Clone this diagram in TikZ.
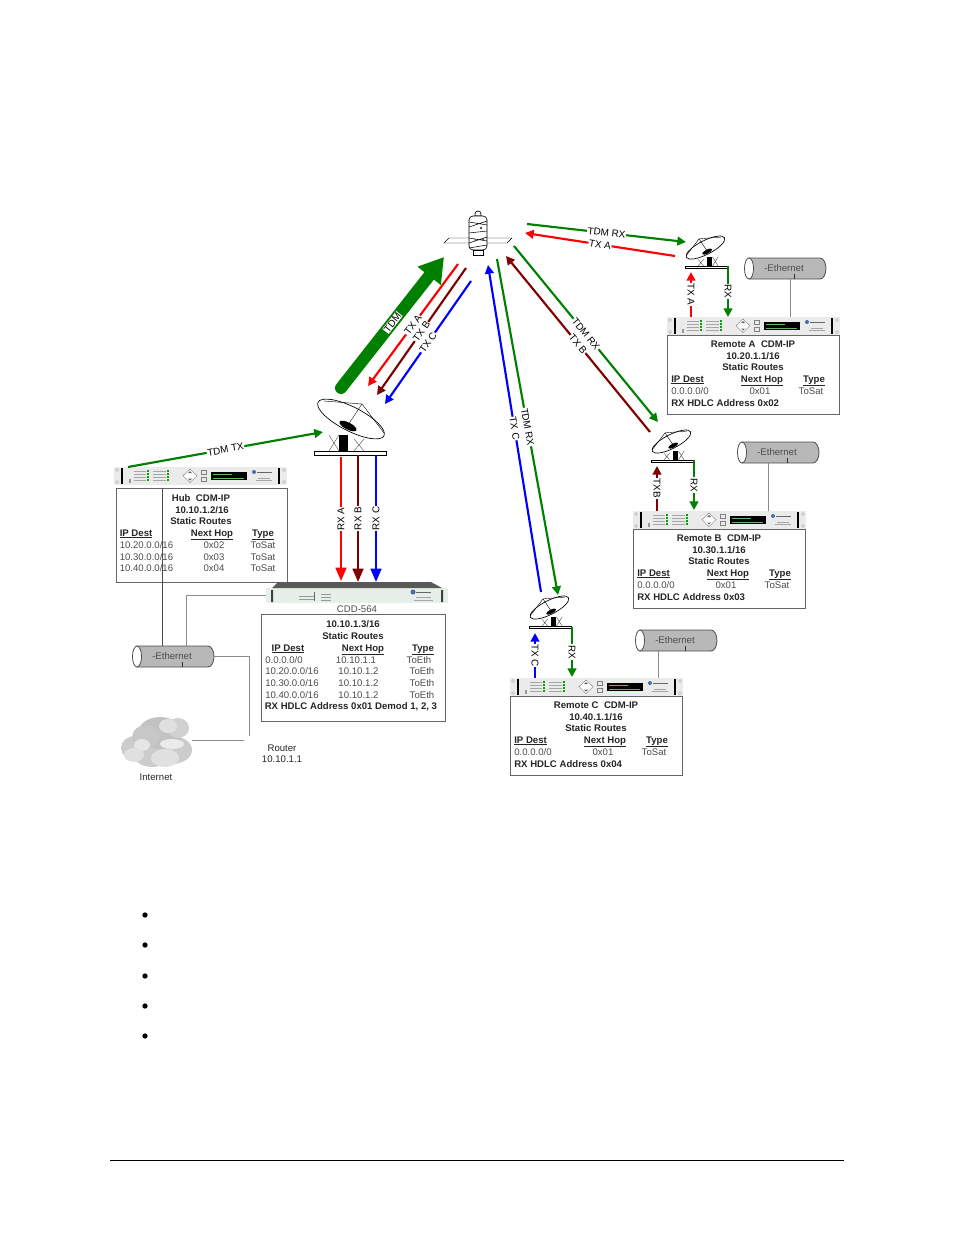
\documentclass[tikz,border=0pt]{standalone}
\usepackage{fontspec}
\setmainfont{Liberation Sans}
\usetikzlibrary{arrows.meta}
\definecolor{linkGreen}{RGB}{0,128,0}
\definecolor{linkMaroon}{RGB}{128,0,0}
\definecolor{cddFront}{RGB}{232,238,232}
\definecolor{logoBlue}{RGB}{70,110,170}
\newcommand{\hdrUnder}[1]{\vtop{\hbox{#1}\kern0.5pt\hrule height 0.45pt}}
\tikzset{
	thinWire/.style={draw=black!45, line width=0.5pt},
	routeBox/.style={rectangle, draw=black!60, fill=white, line width=0.6pt, anchor=north west, inner sep=0pt},
	linkFat/.style={linkGreen, line width=9pt, line cap=round, -{Triangle[length=18pt,width=21pt]}},
	linkBig/.style={line width=1.9pt, -{Triangle[length=10pt,width=8pt]}},
	linkMid/.style={line width=1.6pt, -{Triangle[length=6.5pt,width=6.5pt]}},
	linkLabel/.style={fill=white, inner sep=0.5pt, text=black, font=\fontsize{7.4}{8}\selectfont},
	titleText/.style={inner sep=0pt, text height=6.2pt, text depth=0.8pt, font=\fontsize{7.2}{8}\selectfont\bfseries, text=black!85},
	rowText/.style={inner sep=0pt, text height=6.2pt, text depth=0.8pt, font=\fontsize{7.2}{8}\selectfont, text=black!70},
	rackPanel/.pic={
		\fill[black!8] (0,0) rectangle (173,18);
		\fill[black] (7,1) rectangle (9,17);
		\fill[black] (164,1) rectangle (166,17);
		\draw[black!50, line width=0.2pt] (3,3) circle (1.5) (3,15) circle (1.5) (170,3) circle (1.5) (170,15) circle (1.5);
		\foreach \rowY in {4,6.8,10,13} {
			\fill[linkGreen!70!green] (33,\rowY-0.8) rectangle (35,\rowY+0.8);
			\fill[linkGreen!70!green] (53,\rowY-0.8) rectangle (55,\rowY+0.8);
			\draw[black!35, line width=0.35pt] (20,\rowY) -- (32,\rowY) (39,\rowY) -- (52,\rowY);
		}
		\fill[black!40] (15,12) rectangle (17,16);
		\draw[black!50, fill=white, line width=0.3pt] (76,2) -- (83,8.7) -- (76,15.5) -- (69,8.7) -- cycle;
		\fill[black!60] (76,4) -- (78,6) -- (74,6) -- cycle (76,13.5) -- (78,11.5) -- (74,11.5) -- cycle;
		\draw[black!50, line width=0.3pt] (87,3) rectangle (92,7.5) (87,10) rectangle (92,14.5);
		\fill[black] (97,5) rectangle (133,13);
		\draw[linkGreen!60, line width=0.3pt] (99,7) -- (118,7) (99,11) -- (130,11);
		\fill[logoBlue] (140,5) circle (2);
		\draw[black!60, line width=0.7pt] (143,5) -- (158,5);
		\draw[black!35, line width=0.35pt] (144,11) -- (156,11) (142,13.5) -- (158,13.5);
	},
	etherPic/.pic={
		\draw[black!70, fill=black!28, line width=0.6pt] (6,0) -- (77,0) arc (-90:90:6 and 10.5) -- (6,21) -- cycle;
		\draw[black!70, fill=white, line width=0.6pt] (6,10.5) ellipse (4.5 and 10.5);
		\draw[black!80, line width=0.5pt] (51,15.5) -- (51,21);
	},
	dishPic/.pic={
		\draw[black, fill=white, line width=0.5pt] (-36,-5) rectangle (36,-1);
		\draw[black!70, line width=0.3pt] (-21,-21) -- (-11,-5) (-11,-21) -- (-21,-5) (4,-17) -- (14,-5) (14,-17) -- (4,-5);
		\fill[black] (-11,-21) rectangle (-2,-5);
		\draw[black, fill=white, line width=0.5pt, shift={(1,-37)}, rotate=-27] (0,0) ellipse (37 and 12);
		\draw[black, line width=0.3pt] (-26,-55) -- (12,-52) -- (34,-23) (12,-52) -- (-2,-31);
		\fill[black, shift={(-2,-30)}, rotate=-27] (0,0) ellipse (9.5 and 3.5);
	},
	satPic/.pic={
		\draw[black, fill=white, line width=0.3pt] (-34,15) -- (-29,10) -- (34,10) -- (29,15) -- cycle;
		\draw[black, fill=white, line width=0.5pt] (-3,-14) arc (180:360:3 and 3) -- (3,-12) -- (-3,-12) -- cycle;
		\draw[black, fill=white, line width=0.5pt, rounded corners=3pt] (-9,-12) rectangle (9,22);
		\draw[black, line width=0.4pt] (-9,-6) -- (9,-3) (-9,-1) -- (9,-7) (-9,5) -- (9,3) (-9,10) -- (9,13) (-9,15) -- (9,9) (-9,20) -- (9,17);
		\draw[black, fill=white, line width=0.4pt] (-5,22) rectangle (5,27);
		\fill[black!70] (3,0) circle (1.4) (5,11) circle (1.4) (-3,12) circle (1);
	},
	cddPic/.pic={
		\fill[cddFront] (0,6) rectangle (182,21);
		\fill[black!65] (12,0) -- (165,0) -- (176,6) -- (6,6) -- cycle;
		\fill[black!75] (5,8) rectangle (7,20) (175,8) rectangle (177,20);
		\draw[black!40, line width=0.35pt] (33,14) -- (48,14) (33,17) -- (48,17) (55,12) -- (65,12) (55,15) -- (65,15) (55,18) -- (65,18);
		\fill[black!60] (48,10) rectangle (49,19);
		\fill[logoBlue] (147,10) circle (2.5);
		\draw[black!60, line width=0.7pt] (150,10) -- (165,10);
		\draw[black!35, line width=0.35pt] (150,15) -- (165,15) (148,18) -- (167,18);
	},
}
% one remote: panel, box and its route table
\newcommand{\remoteBox}[6]{
	\node[routeBox, minimum width=129pt, minimum height=59.5pt](#1Box) at (#2,#3+18){};
	\pic (#1Panel) at (#2,#3) {rackPanel};
	\node[titleText](#1Title) at (#2+86,#3+26.5){#4};
	\node[titleText](#1Addr) at (#2+86,#3+38.5){#5};
	\node[titleText](#1Static) at (#2+86,#3+50){Static Routes};
	\node[titleText, anchor=west](#1Dest) at (#2+4,#3+62){\hdrUnder{IP Dest}};
	\node[titleText](#1Hop) at (#2+95,#3+62){\hdrUnder{Next Hop}};
	\node[titleText](#1Type) at (#2+147,#3+62){\hdrUnder{Type}};
	\node[rowText, anchor=west](#1RowDest) at (#2+4,#3+74){0.0.0.0/0};
	\node[rowText](#1RowHop) at (#2+93,#3+74){0x01};
	\node[rowText](#1RowType) at (#2+144,#3+74){ToSat};
	\node[titleText, anchor=west](#1Hdlc) at (#2+4,#3+86){RX HDLC Address #6};
}
\begin{document}
\begin{tikzpicture}[x=0.75pt,y=-0.75pt]
	\useasboundingbox (0,0) rectangle (954,1235);

	% ethernet and router wiring
	\pic (hubEther) at (131,646) {etherPic};
	\pic (remAEther) at (743,258) {etherPic};
	\pic (remBEther) at (736,442) {etherPic};
	\pic (remCEther) at (634,630) {etherPic};
	\node[rowText](etherHubLbl) at (172,656){-Ethernet};
	\node[rowText](etherALbl) at (784,268){-Ethernet};
	\node[rowText](etherBLbl) at (777,452){-Ethernet};
	\node[rowText](etherCLbl) at (675,640){-Ethernet};

	% hub
	\node[routeBox, minimum width=128.7pt, minimum height=70.5pt](hubBox) at (115.7,488){};
	\coordinate (hubPanelDrop) at (162,488);
	\coordinate (hubEtherTop) at (162,646);
	\draw[black!70, line width=0.5pt] (hubPanelDrop) -- (hubEtherTop);
	\pic (hubPanel) at (114,467) {rackPanel};
	\node[titleText](hubTitle) at (201,497.5){Hub\ \ CDM-IP};
	\node[titleText](hubAddr) at (202,509.5){10.10.1.2/16};
	\node[titleText](hubStatic) at (201,521){Static Routes};
	\node[titleText, anchor=west](hubDest) at (119.5,533){\hdrUnder{IP Dest}};
	\node[titleText](hubHop) at (212,533){\hdrUnder{Next Hop}};
	\node[titleText](hubType) at (263,533){\hdrUnder{Type}};
	\node[rowText, anchor=west](hubRowA) at (119.5,545){10.20.0.0/16};
	\node[rowText, anchor=west](hubRowB) at (119.5,556.5){10.30.0.0/16};
	\node[rowText, anchor=west](hubRowC) at (119.5,568){10.40.0.0/16};
	\node[rowText](hubHopA) at (214,545){0x02};
	\node[rowText](hubHopB) at (214,556.5){0x03};
	\node[rowText](hubHopC) at (214,568){0x04};
	\node[rowText](hubTypeA) at (263,545){ToSat};
	\node[rowText](hubTypeB) at (263,556.5){ToSat};
	\node[rowText](hubTypeC) at (263,568){ToSat};

	% demod
	\node[routeBox, minimum width=138.2pt, minimum height=80.2pt](cddBox) at (260.7,614){};
	\pic (cddUnit) at (266,582) {cddPic};
	\node[rowText, fill=white, inner xsep=1pt, inner ysep=0.5pt](cddLbl) at (357,609){CDD-564};
	\node[titleText](cddAddr) at (353,624){10.10.1.3/16};
	\node[titleText](cddStatic) at (353,636){Static Routes};
	\node[titleText](cddDest) at (288,648){\hdrUnder{IP Dest}};
	\node[titleText](cddHop) at (363,648){\hdrUnder{Next Hop}};
	\node[titleText](cddType) at (423,648){\hdrUnder{Type}};
	\node[rowText, anchor=west](cddRowA) at (265,659.5){0.0.0.0/0};
	\node[rowText, anchor=west](cddRowB) at (265,671){10.20.0.0/16};
	\node[rowText, anchor=west](cddRowC) at (265,683){10.30.0.0/16};
	\node[rowText, anchor=west](cddRowD) at (265,694.5){10.40.0.0/16};
	\node[rowText](cddHopA) at (356,659.5){10.10.1.1};
	\node[rowText](cddHopB) at (358.5,671){10.10.1.2};
	\node[rowText](cddHopC) at (358.5,683){10.10.1.2};
	\node[rowText](cddHopD) at (358.5,694.5){10.10.1.2};
	\node[rowText](cddTypeA) at (419,659.5){ToEth};
	\node[rowText](cddTypeB) at (422,671){ToEth};
	\node[rowText](cddTypeC) at (422,683){ToEth};
	\node[rowText](cddTypeD) at (422,694.5){ToEth};
	\node[titleText, anchor=west](cddHdlc) at (264.5,706){RX HDLC Address 0x01 Demod 1, 2, 3};

	% remotes
	\remoteBox{remA}{667}{317}{Remote A\ \ CDM-IP}{10.20.1.1/16}{0x02}
	\remoteBox{remB}{633}{511}{Remote B\ \ CDM-IP}{10.30.1.1/16}{0x03}
	\remoteBox{remC}{510}{678}{Remote C\ \ CDM-IP}{10.40.1.1/16}{0x04}

	% thin wires
	\coordinate (cddPort) at (266,595);
	\coordinate (cddEtherTop) at (186,646);
	\draw[thinWire] (cddPort) -- (186,595) -- (cddEtherTop);
	\coordinate (hubEtherEnd) at (213,656);
	\coordinate (routerTop) at (249,736);
	\draw[thinWire] (hubEtherEnd) -- (249,656) -- (routerTop);
	\coordinate (cloudEnd) at (192,740);
	\coordinate (routerLeft) at (244,740);
	\draw[thinWire] (cloudEnd) -- (routerLeft);
	\coordinate (etherADrop) at (790,279);
	\coordinate (remAPort) at (790,317);
	\draw[thinWire] (etherADrop) -- (remAPort);
	\coordinate (etherBDrop) at (768,463);
	\coordinate (remBPort) at (768,511);
	\draw[thinWire] (etherBDrop) -- (remBPort);
	\coordinate (etherCDrop) at (658,651);
	\coordinate (remCPort) at (658,678);
	\draw[thinWire] (etherCDrop) -- (remCPort);

	% internet cloud and router label
	\foreach \cx/\cy/\rx/\ry/\tone in {135/748/14/12/20,152/752/20/15/20,172/750/20/14/20,160/733/22/16/24,178/728/11/10/18,146/737/14/12/22,165/758/14/9/12,172/744/12/5/8,142/745/8/6/10,168/726/9/7/12,134/755/10/7/12} {
		\fill[black!\tone] (\cx,\cy) ellipse [x radius=\rx, y radius=\ry];
	}
	\node[rowText, text=black!85](internetLbl) at (156,777){Internet};
	\node[rowText, text=black!85](routerLbl) at (282,748){Router};
	\node[rowText, text=black!85](routerAddr) at (282,759){10.10.1.1};

	% satellite and dishes
	\pic (satBody) at (478,228) {satPic};
	\pic (hubDish) at (350,456) {dishPic};
	\pic[xscale=-0.58, yscale=0.58] (remADish) at (706,269) {dishPic};
	\pic[xscale=-0.58, yscale=0.58] (remBDish) at (672,463) {dishPic};
	\pic[xscale=-0.58, yscale=0.58] (remCDish) at (550,629) {dishPic};

	% link end points
	\coordinate (hubTipTx) at (323,432);
	\coordinate (hubOut) at (128,467);
	\coordinate (fatStart) at (341,388);
	\coordinate (fatTip) at (444,257);
	\coordinate (txaSat) at (458,264);
	\coordinate (txaHub) at (368,386);
	\coordinate (txbSat) at (466,268);
	\coordinate (txbHub) at (377,395);
	\coordinate (txcSat) at (471,281);
	\coordinate (txcHub) at (385,404);
	\coordinate (rxaTop) at (341,457);
	\coordinate (rxaEnd) at (341,581);
	\coordinate (rxbTop) at (358,455);
	\coordinate (rxbEnd) at (358,582);
	\coordinate (rxcTop) at (376,455);
	\coordinate (rxcEnd) at (376,582);
	\coordinate (tdmASat) at (527,224);
	\coordinate (tdmADish) at (686,242);
	\coordinate (txATop) at (675,256);
	\coordinate (txASat) at (525,233);
	\coordinate (tdmBSat) at (514,246);
	\coordinate (tdmBDish) at (658,422);
	\coordinate (txBDish) at (650,432);
	\coordinate (txBSat) at (506,256);
	\coordinate (tdmCSat) at (497,259);
	\coordinate (tdmCDish) at (558,595);
	\coordinate (txCDish) at (541,592);
	\coordinate (txCSat) at (488,265);
	\coordinate (remATxStart) at (691,317);
	\coordinate (remATxTip) at (691,272);
	\coordinate (remARxStart) at (728,266);
	\coordinate (remARxTip) at (728,317);
	\coordinate (remBTxStart) at (657,511);
	\coordinate (remBTxTip) at (657,466);
	\coordinate (remBRxStart) at (694,460);
	\coordinate (remBRxTip) at (694,510);
	\coordinate (remCTxStart) at (535,678);
	\coordinate (remCTxTip) at (535,633);
	\coordinate (remCRxStart) at (572,627);
	\coordinate (remCRxTip) at (572,677);

	% links
	\draw[linkFat] (fatStart) -- node[linkLabel, sloped](fatLbl){TDM} (fatTip);
	\draw[linkMid, linkGreen] (hubOut) -- node[linkLabel, sloped](hubTxLbl){TDM TX} (hubTipTx);
	\draw[linkMid, red] (txaSat) -- node[linkLabel, sloped](txaLbl){TX A} (txaHub);
	\draw[linkMid, linkMaroon] (txbSat) -- node[linkLabel, sloped](txbLbl){TX B} (txbHub);
	\draw[linkMid, blue] (txcSat) -- node[linkLabel, sloped](txcLbl){TX C} (txcHub);
	\draw[linkBig, red] (rxaTop) -- node[linkLabel, rotate=90](rxaLbl){RX A} (rxaEnd);
	\draw[linkBig, linkMaroon] (rxbTop) -- node[linkLabel, rotate=90](rxbLbl){RX B} (rxbEnd);
	\draw[linkBig, blue] (rxcTop) -- node[linkLabel, rotate=90](rxcLbl){RX C} (rxcEnd);

	\draw[linkMid, linkGreen] (tdmASat) -- node[linkLabel, sloped](tdmALbl){TDM RX} (tdmADish);
	\draw[linkMid, red] (txATop) -- node[linkLabel, sloped](txALbl){TX A} (txASat);
	\draw[linkMid, linkGreen] (tdmBSat) -- node[linkLabel, sloped](tdmBLbl){TDM RX} (tdmBDish);
	\draw[linkMid, linkMaroon] (txBDish) -- node[linkLabel, sloped](txBLbl){TX B} (txBSat);
	\draw[linkMid, linkGreen] (tdmCSat) -- node[linkLabel, sloped](tdmCLbl){TDM RX} (tdmCDish);
	\draw[linkMid, blue] (txCDish) -- node[linkLabel, sloped](txCLbl){TX C} (txCSat);

	\draw[linkMid, red] (remATxStart) -- node[linkLabel, rotate=-90](remATxLbl){TX A} (remATxTip);
	\draw[linkMid, linkGreen] (remARxStart) -- node[linkLabel, rotate=-90](remARxLbl){RX} (remARxTip);
	\draw[linkMid, linkMaroon] (remBTxStart) -- node[linkLabel, rotate=-90](remBTxLbl){TXB} (remBTxTip);
	\draw[linkMid, linkGreen] (remBRxStart) -- node[linkLabel, rotate=-90](remBRxLbl){RX} (remBRxTip);
	\draw[linkMid, blue] (remCTxStart) -- node[linkLabel, rotate=-90](remCTxLbl){TX C} (remCTxTip);
	\draw[linkMid, linkGreen] (remCRxStart) -- node[linkLabel, rotate=-90](remCRxLbl){RX} (remCRxTip);

	% page bullets and foot rule
	\foreach \yy/\nn in {915/1,945/2,976/3,1006/4,1036/5} {
		\node[circle, fill=black, inner sep=0pt, minimum size=4pt](bullet\nn) at (145,\yy){};
	}
	\coordinate (footLeft) at (110,1160);
	\coordinate (footRight) at (844,1160);
	\draw[black, line width=0.6pt] (footLeft) -- (footRight);
\end{tikzpicture}
\end{document}
